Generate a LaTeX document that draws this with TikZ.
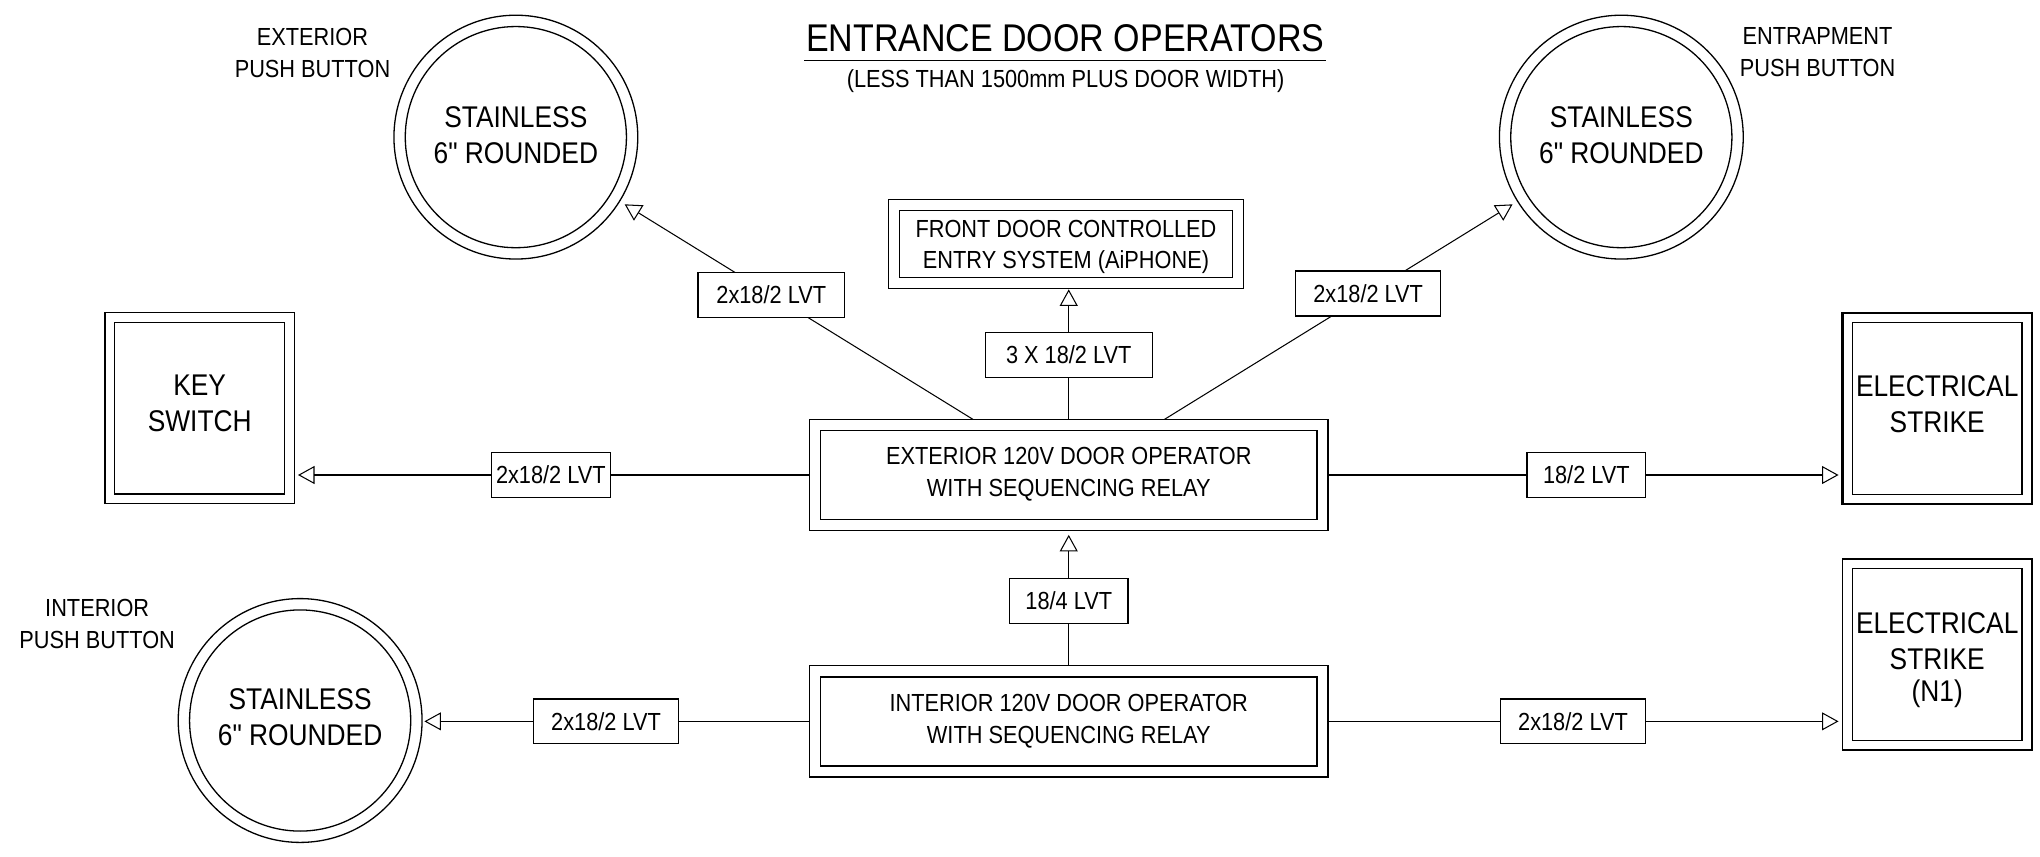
\documentclass[tikz,border=0pt]{standalone}
\usepackage{fontspec}
% plain family (no TeX ligature mapping), so the inch mark stays straight
\newfontfamily\drawfont{Liberation Sans}[FakeStretch=0.88]
\usetikzlibrary{arrows.meta,calc}

\newcommand\smallfont{\drawfont\fontsize{19}{24.3}\selectfont}
\newcommand\largefont{\drawfont\fontsize{23}{27.7}\selectfont}
\newcommand\titlefont{\drawfont\fontsize{29.7}{34}\selectfont}
% invisible depth below the last line, to nudge a text block upwards
\newcommand\extradepth[1]{\rule[-#1]{0pt}{#1}}

\begin{document}
\begin{tikzpicture}[x=1pt,y=-1pt,
  every node/.style={inner sep=0pt, outer sep=0pt},
  conn/.style={line width=0.8pt},
  arr/.style={conn, -{Triangle[open,length=12.7pt,width=13.8pt]}},
  outline/.style={draw, line width=1pt},
  sqbox/.style={outline, minimum width=145.5pt, minimum height=147pt, align=center, font=\largefont},
  opbox/.style={outline, minimum width=398.7pt, minimum height=85.4pt, align=center, font=\smallfont},
  pbcircle/.style={outline, circle, minimum size=187.4pt, align=center, font=\largefont},
  wirelbl/.style={draw, fill=white, line width=1pt, minimum height=34.4pt, font=\smallfont},
  pbtext/.style={align=center, font=\smallfont},
]
\fill[white] (0,0) rectangle (1568,658);

% heading
\node[anchor=base, font=\titlefont] (title) at (818.7,39.7) {ENTRANCE DOOR OPERATORS};
\draw[line width=1.1pt] ($(title.base west)+(-1.5,6.9)$) -- ($(title.base east)+(1.5,6.9)$);
\node[anchor=base, font=\smallfont] (subtitle) at (819,67.1) {(LESS THAN 1500mm PLUS DOOR WIDTH)};

% operators and entry system
\node[opbox] (extop) at (821.45,365.1) {EXTERIOR 120V DOOR OPERATOR\\WITH SEQUENCING RELAY\extradepth{4.7pt}};
\node[opbox] (intop) at (821.45,554.45) {INTERIOR 120V DOOR OPERATOR\\WITH SEQUENCING RELAY\extradepth{4.2pt}};
\node[outline, minimum width=272.5pt, minimum height=68.7pt, align=center, font=\smallfont] (entry) at (819.35,187.55)
  {\rule{0pt}{17.6pt}FRONT DOOR CONTROLLED\\ENTRY SYSTEM (AiPHONE)};

% switch and strikes
\node[sqbox] (keysw) at (153.5,313.7) {KEY\\SWITCH\extradepth{6.9pt}};
\node[sqbox, line width=1.8pt] (strike) at (1489,313.85) {ELECTRICAL\\STRIKE\extradepth{6.2pt}};
\node[sqbox] (strikeb) at (1489,503.05) {\rule{0pt}{24.3pt}ELECTRICAL\\STRIKE\\[-2.9pt](N1)};

% push buttons
\node[pbcircle] (pbext) at (396.5,105.4) {STAINLESS\\6" ROUNDED\extradepth{3.9pt}};
\node[pbcircle] (pbent) at (1246.2,105.4) {STAINLESS\\6" ROUNDED\extradepth{3.9pt}};
\node[pbcircle] (pbint) at (230.7,553.8) {STAINLESS\\6" ROUNDED\extradepth{5pt}};
\foreach \n in {pbext,pbent,pbint}
  \draw[line width=1pt] (\n.center) circle[radius=85];

\node[pbtext] (capext) at (240.2,40.5) {EXTERIOR\\PUSH BUTTON};
\node[pbtext] (capent) at (1397,40) {ENTRAPMENT\\PUSH BUTTON};
\node[pbtext] (capint) at (74.7,479.6) {INTERIOR\\PUSH BUTTON};

% inner frames of the double boxes
\foreach \n/\d in {keysw/7.5, strike/7.5, strikeb/7.5, extop/8.5, intop/8.5, entry/8.5}
  \draw[line width=1pt] ($(\n.north west)+(\d,\d)$) rectangle ($(\n.south east)-(\d,\d)$);

% wiring
\draw[arr, shorten >=2.8pt] (extop.west) -- node[wirelbl, minimum width=91.2pt, pos=0.502] (w1) {2x18/2 LVT} (extop.west -| keysw.east);
\draw[arr, shorten >=3.1pt] (extop.east) -- node[wirelbl, minimum width=91.3pt, pos=0.502] (w2) {18/2 LVT} (extop.east -| strike.west);
\draw[arr, shorten >=4.6pt] ([xshift=-73.5pt]extop.north) -- node[wirelbl, minimum width=112.5pt, pos=0.571] (w3) {2x18/2 LVT} (pbext);
\draw[arr, shorten >=4.6pt] ([xshift=73.5pt]extop.north) -- node[wirelbl, minimum width=111.5pt, pos=0.577] (w4) {2x18/2 LVT} (pbent);
\draw[arr, shorten >=0.5pt] (extop.north) -- node[wirelbl, minimum width=128.4pt, pos=0.4925] (w5) {3 X 18/2 LVT} (extop.north |- entry.south);
\draw[arr, shorten >=3.3pt] (intop.north) -- node[wirelbl, minimum width=91.3pt, pos=0.48] (w6) {18/4 LVT} (extop.south);
\draw[arr, shorten >=1.8pt] (intop.west) -- node[wirelbl, minimum width=111.6pt, pos=0.525] (w7) {2x18/2 LVT} (intop.west -| pbint.east);
\draw[arr, shorten >=3.1pt] (intop.east) -- node[wirelbl, minimum width=111.7pt, pos=0.476] (w8) {2x18/2 LVT} (intop.east -| strikeb.west);
\end{tikzpicture}
\end{document}
